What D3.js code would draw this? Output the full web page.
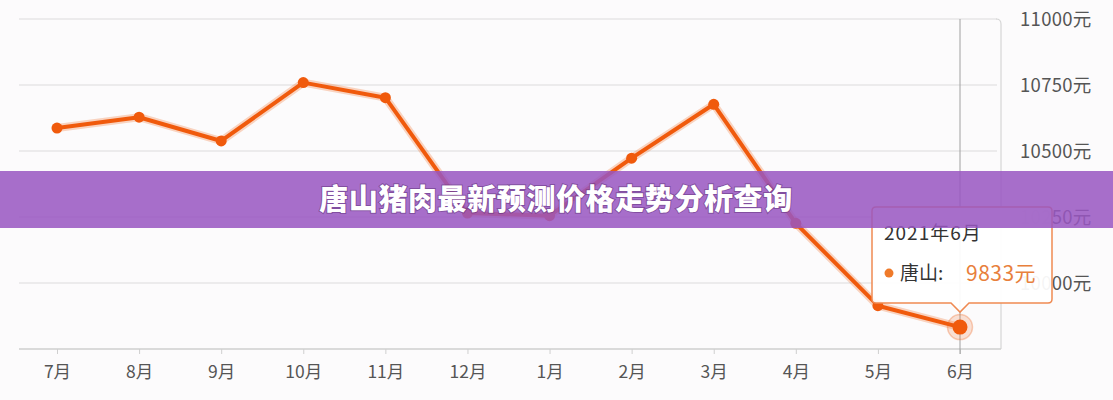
<!DOCTYPE html>
<html>
<head>
<meta charset="utf-8">
<script src="https://cdn.jsdelivr.net/npm/d3@7"></script>
<style>
	html, body { margin: 0; padding: 0; background: #fcfbfc; }
	svg { display: block; font-family: "Noto Sans CJK SC", "Noto Sans", sans-serif; }
</style>
</head>
<body>
<svg id="chart" width="1113" height="400"></svg>
<script>
// chart data
var months = ["7月", "8月", "9月", "10月", "11月", "12月", "1月", "2月", "3月", "4月", "5月", "6月"];
var prices = [10587, 10628, 10538, 10759, 10702, 10265, 10255, 10473, 10677, 10226, 9914, 9833];
var yTicks = [10000, 10250, 10500, 10750, 11000];
var yDomain = [9750, 11000];
var city = "唐山";
var tipDate = "2021年6月";
var title = "唐山猪肉最新预测价格走势分析查询";

var lineColour = "#f05a0c";

var svg = d3.select("#chart");

var plot = { left: 19, right: 1001, top: 19, bottom: 349 };

var x = d3.scalePoint()
	.domain(months)
	.range([57, 960]);

var y = d3.scaleLinear()
	.domain(yDomain)
	.range([plot.bottom, plot.top]);

var data = months.map(function(m, i) { return { month: m, price: prices[i] }; });

// grid lines
svg.append("g").selectAll(".grid")
	.data(yTicks)
	.enter().append("line")
	.attr("class", "grid")
	.attr("x1", plot.left)
	.attr("x2", plot.right - 4)
	.attr("y1", function(d) { return y(d); })
	.attr("y2", function(d) { return y(d); })
	.style("stroke", "#dcdcdc")
	.style("stroke-width", 1.2);

// frame on the right with rounded top corner
svg.append("path")
	.attr("d", "M" + (plot.right - 5) + "," + plot.top + " Q" + plot.right + "," + plot.top + " " + plot.right + "," + (plot.top + 5) + " L" + plot.right + "," + plot.bottom)
	.style("fill", "none")
	.style("stroke", "#d6d6d6")
	.style("stroke-width", 1.2);

// right axis labels
svg.append("g").selectAll(".ylab")
	.data(yTicks)
	.enter().append("text")
	.attr("class", "ylab")
	.attr("x", 1020)
	.attr("y", function(d) { return y(d); })
	.attr("dy", "0.36em")
	.style("font-size", "18.5px")
	.style("letter-spacing", "0.3px")
	.style("fill", "#555")
	.text(function(d) { return d + "元"; });

// bottom axis
var xAxis = d3.axisBottom(x).tickSize(5).tickPadding(12);
var gx = svg.append("g")
	.attr("transform", "translate(0," + plot.bottom + ")")
	.call(xAxis);
gx.select(".domain").remove();
gx.insert("line", ":first-child")
	.attr("x1", plot.left)
	.attr("x2", plot.right)
	.style("stroke", "#cfcfcf")
	.style("stroke-width", 1.5);
gx.selectAll(".tick line").style("stroke", "#cfcfcf");
gx.selectAll(".tick text")
	.style("font-size", "17.5px")
	.style("fill", "#555")
	.style("font-family", "'Noto Sans CJK SC', sans-serif");

// crosshair at last point
var last = data[data.length - 1];
svg.append("line")
	.attr("x1", x(last.month))
	.attr("x2", x(last.month))
	.attr("y1", plot.top)
	.attr("y2", plot.bottom + 5)
	.style("stroke", "#a0a0a0")
	.style("stroke-width", 1);

// the series
var line = d3.line()
	.x(function(d) { return x(d.month); })
	.y(function(d) { return y(d.price); });

svg.append("path")
	.datum(data)
	.attr("d", line)
	.style("fill", "none")
	.style("stroke", lineColour)
	.style("stroke-opacity", 0.25)
	.style("stroke-width", 8)
	.style("stroke-linejoin", "round");

svg.append("path")
	.datum(data)
	.attr("d", line)
	.style("fill", "none")
	.style("stroke", lineColour)
	.style("stroke-width", 4)
	.style("stroke-linejoin", "round");

svg.append("g").selectAll(".dot")
	.data(data.slice(0, -1))
	.enter().append("circle")
	.attr("class", "dot")
	.attr("cx", function(d) { return x(d.month); })
	.attr("cy", function(d) { return y(d.price); })
	.attr("r", 5.5)
	.style("fill", lineColour);

// active point
var ax = x(last.month), ay = y(last.price);
svg.append("circle")
	.attr("cx", ax).attr("cy", ay).attr("r", 12.5)
	.style("fill", "rgba(240,100,30,0.18)")
	.style("stroke", "rgba(240,100,30,0.3)")
	.style("stroke-width", 1.5);
svg.append("circle")
	.attr("cx", ax).attr("cy", ay).attr("r", 7.5)
	.style("fill", lineColour);

// tooltip
var tl = ax - 88, tr = ax + 92, tt = ay - 120, tb = ay - 24, tipY = ay - 15, rr = 4;
var tipPath = "M" + (tl + rr) + "," + tt +
	" L" + (tr - rr) + "," + tt + " Q" + tr + "," + tt + " " + tr + "," + (tt + rr) +
	" L" + tr + "," + (tb - rr) + " Q" + tr + "," + tb + " " + (tr - rr) + "," + tb +
	" L" + (ax + 9) + "," + tb + " L" + ax + "," + tipY + " L" + (ax - 9) + "," + tb +
	" L" + (tl + rr) + "," + tb + " Q" + tl + "," + tb + " " + tl + "," + (tb - rr) +
	" L" + tl + "," + (tt + rr) + " Q" + tl + "," + tt + " " + (tl + rr) + "," + tt + "Z";

var tip = svg.append("g");
tip.append("path")
	.attr("d", tipPath)
	.style("fill", "rgba(255,255,255,0.94)")
	.style("stroke", "#ef8a52")
	.style("stroke-width", 1.5);
tip.append("text")
	.attr("x", tl + 12)
	.attr("y", tt + 33)
	.style("font-size", "19px")
	.style("letter-spacing", "1px")
	.style("fill", "#333")
	.text(tipDate);
tip.append("circle")
	.attr("cx", tl + 17)
	.attr("cy", tt + 66)
	.attr("r", 4.5)
	.style("fill", "#ef7a2a");
tip.append("text")
	.attr("x", tl + 28)
	.attr("y", tt + 73)
	.style("font-size", "19px")
	.style("fill", "#333")
	.text(city + ":");
tip.append("text")
	.attr("x", tl + 94)
	.attr("y", tt + 74)
	.style("font-size", "21px")
	.style("letter-spacing", "0.5px")
	.style("fill", "#e8803c")
	.text(last.price + "元");

// title banner
svg.append("rect")
	.attr("x", 0)
	.attr("y", 171)
	.attr("width", 1113)
	.attr("height", 57)
	.style("fill", "rgba(153,86,193,0.86)");
svg.append("text")
	.attr("x", 556)
	.attr("y", 200)
	.attr("dy", "0.36em")
	.attr("text-anchor", "middle")
	.style("font-size", "29px")
	.style("font-weight", "900")
	.style("letter-spacing", "0.6px")
	.style("fill", "#fff")
	.style("paint-order", "stroke")
	.style("stroke", "rgba(60,20,80,0.35)")
	.style("stroke-width", 2)
	.text(title);
</script>
</body>
</html>
